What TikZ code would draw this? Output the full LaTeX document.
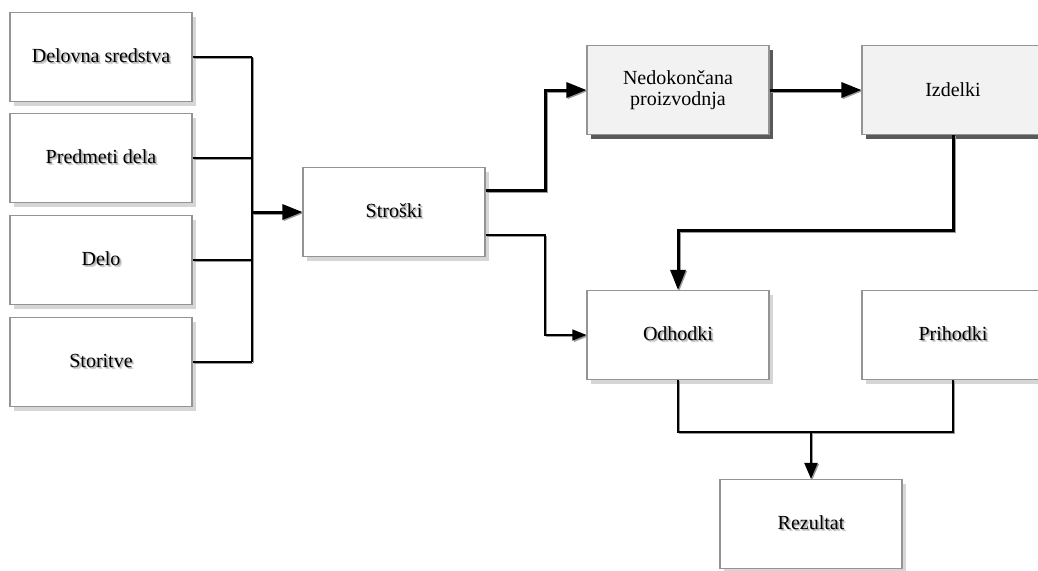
\documentclass[tikz,border=0pt]{standalone}
\usepackage{fontspec}
\setmainfont{Liberation Serif}
\newfontfamily\boxfont{Liberation Serif}
\usetikzlibrary{arrows.meta,shadows}
% text with a soft grey shadow behind it
\newcommand\shtxt[1]{\leavevmode\rlap{\raisebox{-2.2pt}{\kern2.2pt\textcolor{black!20}{#1}}}\rlap{\raisebox{-1.2pt}{\kern1.2pt\textcolor{black!30}{#1}}}#1}
\begin{document}
\begin{tikzpicture}[x=1pt,y=-1pt,
  boxbase/.style={draw=black!42, line width=1.1pt, minimum width=182pt, minimum height=89pt,
    inner sep=0pt, align=center, font=\boxfont\fontsize{20}{22}\selectfont},
  box/.style={boxbase, fill=white,
    drop shadow={shadow xshift=4pt, shadow yshift=-4pt, fill=black!16, opacity=1}},
  greybox/.style={boxbase, fill=black!5,
    drop shadow={shadow xshift=4pt, shadow yshift=-4pt, fill=black!65, opacity=1}},
  wire/.style={black, line width=1.3pt,
    preaction={draw=black!40, line width=1.3pt, transform canvas={shift={(1.4pt,-1.4pt)}}}},
  thickarrow/.style={black, line width=3pt, -{Triangle[length=20pt,width=15pt]},
    preaction={draw=black!40, line width=3pt, -{Triangle[length=20pt,width=15pt]},
      transform canvas={shift={(1.2pt,-1.2pt)}}}},
  midarrow/.style={black, line width=2.2pt, -{Triangle[length=16pt,width=13pt]},
    preaction={draw=black!40, line width=2.2pt, -{Triangle[length=16pt,width=13pt]},
      transform canvas={shift={(1.2pt,-1.2pt)}}}},
  thinarrow/.style={wire, -{Triangle[length=14pt,width=11pt]}}
]
\clip (0,0) rectangle (1038,570);
\useasboundingbox (0,0) rectangle (1038,570);

% input boxes
\node[box] (d1) at (101,57)  {\shtxt{Delovna sredstva}};
\node[box] (d2) at (101,158) {\shtxt{Predmeti dela}};
\node[box] (d3) at (101,260) {\shtxt{Delo}};
\node[box] (d4) at (101,362) {\shtxt{Storitve}};

% cost node and its outputs
\node[box] (s) at (394,212) {\shtxt{Stroški}};
\node[greybox] (n) at (678,90) {Nedokončana\\[-1pt]proizvodnja};
\node[greybox] (i) at (953,90) {Izdelki};
\node[box] (o) at (678,335) {\shtxt{Odhodki}};
\node[box] (p) at (953,335) {\shtxt{Prihodki}};
\node[box] (r) at (811,524) {\shtxt{Rezultat}};

% routing points
\coordinate (bus) at (252,212);
\coordinate (sx) at (545,0);
\coordinate (turn) at (0,230);
\coordinate (jn) at (0,432);

% inputs gathered on one bus
\draw[wire] (d1.east) -- (d1.east -| bus);
\draw[wire] (d2.east) -- (d2.east -| bus);
\draw[wire] (d3.east) -- (d3.east -| bus);
\draw[wire] (d4.east) -- (d4.east -| bus);
\draw[wire] (d1.east -| bus) -- (d4.east -| bus);
\draw[thickarrow] (bus) -- (s.west);

% costs to work in progress and to expenses
\draw[thickarrow] ([yshift=22pt]s.east) -| (sx |- n.west) -- (n.west);
\draw[thinarrow] ([yshift=-23pt]s.east) -| (sx |- o.west) -- (o.west);

% products
\draw[thickarrow] (n.east) -- (i.west);
\draw[thickarrow] (i.south) -- (i.south |- turn) -| (o.north);

% result
\draw[wire] (o.south) -- (o.south |- jn) -- (p.south |- jn) -- (p.south);
\draw[midarrow] (r.north |- jn) -- (r.north);
\end{tikzpicture}
\end{document}
